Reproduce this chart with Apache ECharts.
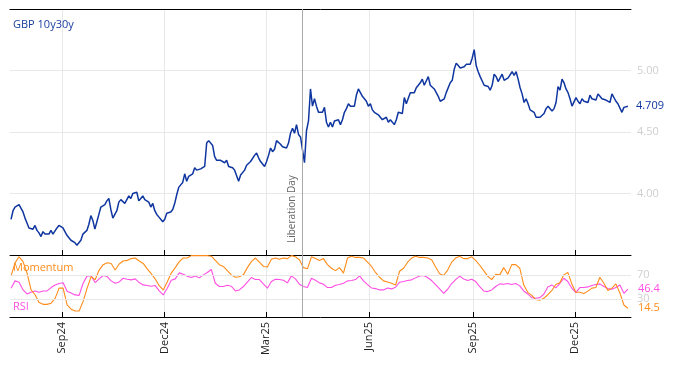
<!DOCTYPE html>
<html><head><meta charset="utf-8">
<script src="https://cdn.jsdelivr.net/npm/echarts@6/dist/echarts.min.js"></script>
<style>html,body{margin:0;padding:0;background:#fff}#c{width:674px;height:366px}</style>
</head><body><div id="c"></div>
<script>
// ---- data ----
const seriesDateRange = ['2024-07-17T12:00:00Z', '2026-01-16T20:00:00Z'];
const axisDateRange = ['2024-07-16T14:00:00Z', '2026-01-19T14:00:00Z'];
const tickDates = ['2024-09-01', '2024-12-01', '2025-03-01', '2025-06-01', '2025-09-01', '2025-12-01'];
const tickLabels = ['Sep24', 'Dec24', 'Mar25', 'Jun25', 'Sep25', 'Dec25'];
const liberationDay = '2025-04-02';
const mainTicks = [4.00, 4.50, 5.00];
const oscTicks = [30, 70];

const gbp10y30y = [
3.79,3.86,3.89,3.88,3.91,3.90,3.85,3.80,3.76,3.72,3.71,3.71,3.74,3.70,3.68,3.65,3.69,3.67,3.66,3.67,
3.70,3.67,3.68,3.72,3.74,3.75,3.72,3.69,3.66,3.65,3.62,3.61,3.60,3.58,3.57,3.62,3.67,3.68,3.70,3.75,
3.82,3.78,3.71,3.77,3.83,3.89,3.90,3.91,3.94,3.96,3.87,3.80,3.81,3.86,3.93,3.95,3.94,3.92,3.95,3.98,
3.96,4.00,4.00,4.01,3.94,3.96,3.98,3.95,3.95,3.93,3.89,3.92,3.86,3.83,3.81,3.79,3.77,3.79,
3.84,3.85,3.85,3.87,3.92,3.99,4.05,4.07,4.09,4.16,4.10,4.14,4.15,4.16,4.21,4.19,4.18,4.20,4.21,4.22,
4.41,4.43,4.44,4.39,4.30,4.27,4.27,4.27,4.26,4.25,4.27,4.22,4.22,4.21,4.19,4.19,4.10,4.15,4.16,4.19,
4.23,4.23,4.26,4.27,4.31,4.33,4.29,4.26,4.26,4.22,4.26,4.31,4.37,4.34,4.36,4.43,4.44,4.40,4.38,4.38,
4.37,4.41,4.49,4.53,4.49,4.56,4.48,4.46,4.45,4.25,4.51,4.59,4.85,4.71,4.77,
4.71,4.66,4.65,4.66,4.70,4.58,4.54,4.58,4.54,4.59,4.60,4.60,4.56,4.60,4.66,4.69,4.73,4.71,4.70,4.71,
4.80,4.85,4.84,4.79,4.77,4.75,4.71,4.73,4.68,4.66,4.67,4.64,4.63,4.60,4.60,4.62,4.58,4.60,4.59,4.56,
4.60,4.66,4.67,4.65,4.78,4.73,4.74,4.82,4.82,4.82,4.86,4.88,4.90,4.93,4.88,4.88,4.95,4.88,4.88,4.85,
4.82,4.79,4.75,4.75,4.77,4.82,4.82,4.90,4.92,5.01,5.06,5.04,5.02,5.01,5.03,5.05,5.04,5.05,5.10,
5.17,5.04,4.99,4.95,4.94,4.88,4.89,4.87,4.84,4.88,4.97,4.95,4.91,4.94,4.97,4.92,4.93,4.94,4.95,4.99,
4.96,4.99,4.93,4.86,4.81,4.74,4.77,4.73,4.68,4.68,4.66,4.62,4.62,4.62,4.63,4.65,4.69,4.71,4.71,4.67,
4.69,4.74,4.87,4.84,4.93,4.90,4.85,4.82,4.77,4.71,4.70,4.78,4.75,4.73,4.77,4.75,4.76,4.74,4.80,4.77,
4.78,4.76,4.81,4.79,4.77,4.76,4.76,4.75,4.74,4.81,4.81,4.75,4.73,4.74,4.66,4.70,4.69,4.709
];

const momentum = [
68,90,100,92,73,45,37,24,21,21,23,31,48,48,20,13,10,10,26,48,
67,62,78,87,90,89,78,88,93,94,97,98,93,89,80,72,63,52,45,58,
73,82,92,98,98,102,102,102,102,102,101,94,87,84,77,70,66,67,70,82,
92,98,91,84,83,96,98,96,98,97,102,100,95,82,80,100,97,94,97,87,
81,77,82,73,98,101,99,99,98,91,84,74,66,60,58,56,53,76,81,91,
98,101,99,99,98,95,83,72,69,78,91,98,101,97,97,100,94,86,77,68,
62,71,70,82,71,87,87,81,53,41,36,29,28,31,37,44,54,57,70,74,
55,41,41,39,43,48,49,66,56,44,48,55,40,20,14.5
];

const rsi = [
47.8,60,57.8,45,38.3,41.1,43.3,41.1,43.3,43.3,48.9,53.3,55.6,57,42.8,40,36.7,36,56.1,68.3,
68.3,57.2,63.3,68.9,67.2,60,56.1,58.3,64.4,62.8,61.7,63.3,57.2,53.3,52.2,51.1,52.2,43.3,36.7,47.8,
61.1,63.3,73.3,71.1,67.8,65.6,68.3,65,70,73.9,78.9,56.1,50.6,50.6,52.8,51.1,43.3,45,50.6,57.8,
65.6,62.2,62.2,55,47.8,58.9,62.8,62.2,61.1,56.7,68.3,63.3,54.4,50.6,48.9,64.4,61.1,56.7,54.4,48.9,
48.9,52.8,53.9,56.1,60,60.6,62.2,68.3,60,53.9,48.3,47.2,45,45,48.3,46.7,49.4,57.8,58.9,60.6,
61.7,65,68.3,68.9,65.6,60.6,53.9,46.7,39.4,46.1,55.6,62.2,67.8,63.3,60.6,62.8,58.9,50.6,43.3,42.2,
45,50.6,55,54.4,55.6,53.9,55.6,51.7,43.3,38.3,32.2,31.1,32.2,37.8,50,53.3,48.3,55.6,64.4,58.9,
47.8,40.6,48.9,48.9,50,52.2,53.9,55,50.6,47.2,46.1,48.9,53.3,39.4,46.4
];

// ---- helpers ----
function spread(vals) {
  const t0 = Date.parse(seriesDateRange[0]), t1 = Date.parse(seriesDateRange[1]);
  const n = vals.length;
  return vals.map((v, i) => [t0 + (t1 - t0) * i / (n - 1), v]);
}
const tickTimes = tickDates.map(d => Date.parse(d + 'T00:00:00Z'));
const xMin = Date.parse(axisDateRange[0]), xMax = Date.parse(axisDateRange[1]);
const libTime = Date.parse(liberationDay + 'T00:00:00Z');
const FONT = 'Open Sans';
const GRID_C = '#e8e8e8';
const BLUE = '#0f36a0', ORANGE = '#ff8c1a', MAGENTA = '#ff4fe3';

function xAxisBase(gridIndex) {
  return {
    type: 'value', gridIndex, min: xMin, max: xMax,
    axisLine: { show: true, onZero: false, lineStyle: { color: '#000', width: 1 } },
    axisTick: { show: true, inside: true, length: 5, lineStyle: { color: '#000' }, customValues: tickTimes },
    axisLabel: { show: false, customValues: tickTimes },
    splitLine: { show: true, lineStyle: { color: GRID_C } }
  };
}

const chart = echarts.init(document.getElementById('c'), null, { renderer: 'canvas' });
chart.setOption({
  animation: false,
  backgroundColor: '#fff',
  textStyle: { fontFamily: FONT },
  title: [
    { text: 'GBP 10y30y', left: 13, top: 19, padding: 0, textStyle: { color: '#1a3fa0', fontSize: 11, fontWeight: 'normal', fontFamily: FONT } },
    { text: 'Momentum', left: 13, top: 262, padding: 0, textStyle: { color: ORANGE, fontSize: 11, fontWeight: 'normal', fontFamily: FONT } },
    { text: 'RSI', left: 13, top: 301, padding: 0, textStyle: { color: MAGENTA, fontSize: 11, fontWeight: 'normal', fontFamily: FONT } }
  ],
  grid: [
    { left: 10, right: 43, top: 9, height: 246 },
    { left: 10, right: 43, top: 255, height: 62 }
  ],
  xAxis: [
    xAxisBase(0),
    Object.assign(xAxisBase(0), { position: 'top', axisTick: { show: false }, splitLine: { show: false } }),
    Object.assign(xAxisBase(1), {
      axisLabel: {
        show: true, customValues: tickTimes, rotate: 90, margin: 5,
        color: '#222', fontSize: 11, fontFamily: FONT,
        formatter: v => { const i = tickTimes.indexOf(v); return i >= 0 ? tickLabels[i] : ''; }
      }
    })
  ],
  yAxis: [
    {
      type: 'value', gridIndex: 0, position: 'right', min: 3.5, max: 5.5, interval: 0.5,
      axisLine: { show: false }, axisTick: { show: false },
      axisLabel: { margin: 6, color: '#cfcfcf', fontSize: 11, fontFamily: FONT,
        formatter: v => mainTicks.some(t => Math.abs(t - v) < 1e-6) ? v.toFixed(2) : '' },
      splitLine: { show: true, lineStyle: { color: GRID_C } }
    },
    {
      type: 'value', gridIndex: 1, position: 'right', min: 0, max: 103, interval: 10,
      axisLine: { show: false }, axisTick: { show: false },
      axisLabel: { margin: 6, color: '#cfcfcf', fontSize: 11, fontFamily: FONT,
        formatter: v => oscTicks.indexOf(v) >= 0 ? String(v) : '' },
      splitLine: { show: false }
    }
  ],
  series: [
    {
      name: 'GBP 10y30y', type: 'line', xAxisIndex: 0, yAxisIndex: 0,
      data: spread(gbp10y30y), showSymbol: false, symbol: 'none',
      lineStyle: { color: BLUE, width: 1.5 }, itemStyle: { color: BLUE },
      endLabel: { show: true, distance: 8, color: BLUE, fontSize: 11, fontFamily: FONT,
        formatter: p => p.value[1].toFixed(3) },
      markLine: {
        silent: true, symbol: 'none', animation: false,
        lineStyle: { color: '#aaaaaa', type: 'solid', width: 1 },
        label: { show: true, position: 'insideStartTop', formatter: 'Liberation Day', color: '#666', fontSize: 10, fontFamily: FONT, distance: [12, 5] },
        data: [{ xAxis: libTime }]
      }
    },
    {
      name: 'Momentum', type: 'line', xAxisIndex: 2, yAxisIndex: 1,
      data: spread(momentum), showSymbol: false, symbol: 'none',
      lineStyle: { color: ORANGE, width: 1.1 }, itemStyle: { color: ORANGE },
      endLabel: { show: true, distance: 10, color: ORANGE, fontSize: 11, fontFamily: FONT,
        formatter: p => p.value[1].toFixed(1) },
      markLine: {
        silent: true, symbol: 'none', animation: false, label: { show: false },
        data: [
          { yAxis: 30, lineStyle: { color: GRID_C, type: 'solid', width: 1 } },
          { yAxis: 70, lineStyle: { color: GRID_C, type: 'solid', width: 1 } },
          { xAxis: libTime, lineStyle: { color: '#aaaaaa', type: 'solid', width: 1 } }
        ]
      },
      z: 3
    },
    {
      name: 'RSI', type: 'line', xAxisIndex: 2, yAxisIndex: 1,
      data: spread(rsi), showSymbol: false, symbol: 'none',
      lineStyle: { color: MAGENTA, width: 1.1 }, itemStyle: { color: MAGENTA },
      endLabel: { show: true, distance: 10, color: MAGENTA, fontSize: 11, fontFamily: FONT,
        formatter: p => p.value[1].toFixed(1) },
      z: 2
    }
  ]
});
</script>
</body></html>
